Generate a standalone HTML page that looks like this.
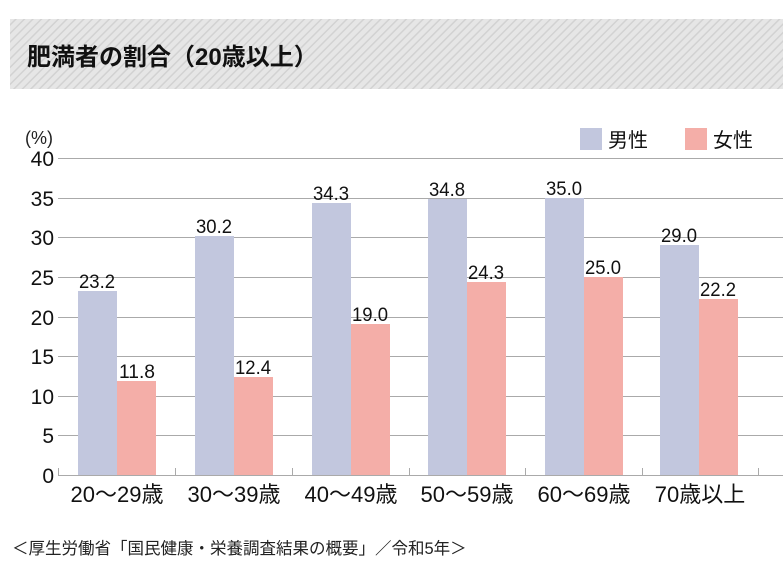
<!DOCTYPE html>
<html><head><meta charset="utf-8"><style>
body{margin:0;width:783px;height:568px;background:#fff;overflow:hidden;font-family:"Liberation Sans","Noto Sans CJK JP",sans-serif;}
</style></head><body>
<svg width="783" height="568" xmlns="http://www.w3.org/2000/svg" font-family="Liberation Sans, Noto Sans CJK JP, sans-serif">
<defs><pattern id="st" width="6" height="6" patternUnits="userSpaceOnUse" patternTransform="rotate(45)"><rect width="6" height="6" fill="#e6e6e6"/><rect width="1.5" height="6" fill="#d2d2d2"/></pattern></defs>
<rect x="10" y="19" width="773" height="70" fill="url(#st)"/>
<text x="27" y="65" font-size="24" font-weight="bold" fill="#111">肥満者の割合（20歳以上）</text>
<text x="25" y="144" font-size="18" fill="#222">(%)</text>
<g stroke="#aaa" stroke-width="1">
<line x1="58" x2="783" y1="158.5" y2="158.5"/><line x1="58" x2="783" y1="198.5" y2="198.5"/><line x1="58" x2="783" y1="237.5" y2="237.5"/><line x1="58" x2="783" y1="277.5" y2="277.5"/><line x1="58" x2="783" y1="317.5" y2="317.5"/><line x1="58" x2="783" y1="356.5" y2="356.5"/><line x1="58" x2="783" y1="396.5" y2="396.5"/><line x1="58" x2="783" y1="435.5" y2="435.5"/>
</g>
<g font-size="21" fill="#111" text-anchor="end">
<text x="54" y="166">40</text><text x="54" y="206">35</text><text x="54" y="245">30</text><text x="54" y="285">25</text><text x="54" y="325">20</text><text x="54" y="364">15</text><text x="54" y="404">10</text><text x="54" y="443">5</text><text x="54" y="483">0</text>
</g>
<g>
<rect x="78" y="291" width="39" height="184" fill="#c2c7de"/><rect x="117" y="381" width="39" height="94" fill="#f4aea8"/>
<rect x="195" y="236" width="39" height="239" fill="#c2c7de"/><rect x="234" y="377" width="39" height="98" fill="#f4aea8"/>
<rect x="312" y="203" width="39" height="272" fill="#c2c7de"/><rect x="351" y="324" width="39" height="151" fill="#f4aea8"/>
<rect x="428" y="199" width="39" height="276" fill="#c2c7de"/><rect x="467" y="282" width="39" height="193" fill="#f4aea8"/>
<rect x="545" y="198" width="39" height="277" fill="#c2c7de"/><rect x="584" y="277" width="39" height="198" fill="#f4aea8"/>
<rect x="660" y="245" width="39" height="230" fill="#c2c7de"/><rect x="699" y="299" width="39" height="176" fill="#f4aea8"/>
</g>
<g stroke="#aaa"><line x1="58" x2="783" y1="475.5" y2="475.5"/>
<line x1="58.5" x2="58.5" y1="468" y2="476"/><line x1="175.5" x2="175.5" y1="468" y2="476"/><line x1="292.5" x2="292.5" y1="468" y2="476"/><line x1="409.5" x2="409.5" y1="468" y2="476"/><line x1="525.5" x2="525.5" y1="468" y2="476"/><line x1="642.5" x2="642.5" y1="468" y2="476"/><line x1="758.5" x2="758.5" y1="468" y2="476"/></g>
<g font-size="19" fill="#111" text-anchor="middle">
<text x="97" y="288" textLength="36" lengthAdjust="spacingAndGlyphs">23.2</text><text x="137" y="378" textLength="36" lengthAdjust="spacingAndGlyphs">11.8</text>
<text x="214" y="233" textLength="36" lengthAdjust="spacingAndGlyphs">30.2</text><text x="253" y="374" textLength="36" lengthAdjust="spacingAndGlyphs">12.4</text>
<text x="331" y="200" textLength="36" lengthAdjust="spacingAndGlyphs">34.3</text><text x="370" y="321" textLength="36" lengthAdjust="spacingAndGlyphs">19.0</text>
<text x="447" y="196" textLength="36" lengthAdjust="spacingAndGlyphs">34.8</text><text x="486" y="279" textLength="36" lengthAdjust="spacingAndGlyphs">24.3</text>
<text x="564" y="195" textLength="36" lengthAdjust="spacingAndGlyphs">35.0</text><text x="603" y="274" textLength="36" lengthAdjust="spacingAndGlyphs">25.0</text>
<text x="679" y="242" textLength="36" lengthAdjust="spacingAndGlyphs">29.0</text><text x="718" y="296" textLength="36" lengthAdjust="spacingAndGlyphs">22.2</text>
</g>
<g font-size="22" fill="#111" text-anchor="middle">
<text x="117" y="502">20～29歳</text><text x="234" y="502">30～39歳</text><text x="351" y="502">40～49歳</text><text x="467" y="502">50～59歳</text><text x="584" y="502">60～69歳</text><text x="700" y="502">70歳以上</text>
</g>
<rect x="580" y="128" width="22" height="22" fill="#c2c7de"/><text x="608" y="147" font-size="20" fill="#111">男性</text>
<rect x="685" y="128" width="22" height="22" fill="#f4aea8"/><text x="713" y="147" font-size="20" fill="#111">女性</text>
<text x="12" y="554" font-size="16.5" fill="#222">＜厚生労働省「国民健康・栄養調査結果の概要」／令和5年＞</text>
</svg>
</body></html>
